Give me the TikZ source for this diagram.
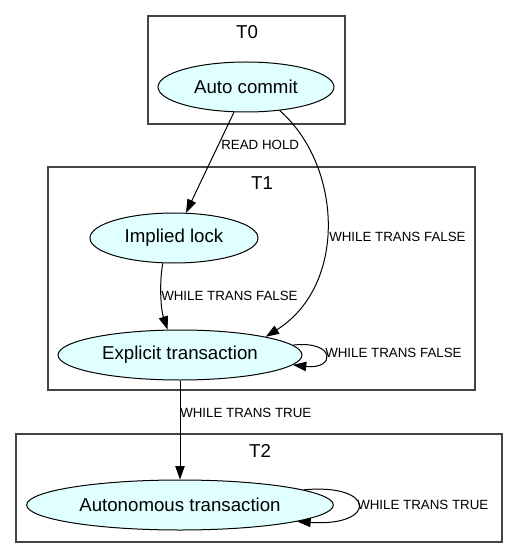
\documentclass[tikz,border=0pt]{standalone}
\usepackage{fontspec}
\setmainfont{Liberation Sans}
\usetikzlibrary{shapes.geometric,arrows.meta}
\definecolor{nodefill}{HTML}{E0FFFF}
\definecolor{clustercol}{HTML}{444444}
\tikzset{
  state/.style={ellipse, draw=black, fill=nodefill, line width=0.75pt, inner sep=0pt,
    minimum height=37.5pt, font=\fontsize{14}{16}\selectfont},
  cluster/.style={draw=clustercol, line width=0.9pt},
  clabel/.style={font=\fontsize{14}{16}\selectfont, inner sep=0pt},
  elabel/.style={font=\fontsize{10}{12}\selectfont, inner sep=0pt, anchor=west},
  edge/.style={draw=black, line width=0.75pt, -{Triangle[length=10pt,width=7pt]}}
}
\begin{document}
\begin{tikzpicture}[x=0.75pt,y=-0.75pt]
\useasboundingbox (0,0) rectangle (519,559);
% clusters
\draw[cluster] (148,16) rectangle (345,124);
\node[clabel] (t0) at (247,32) {T0};
\draw[cluster] (48,167) rectangle (475,390);
\node[clabel] (t1) at (262,183) {T1};
\draw[cluster] (16,434) rectangle (502,542);
\node[clabel] (t2) at (260,451) {T2};
% nodes
\node[state, minimum width=132pt] (ac) at (246,87) {Auto commit};
\node[state, minimum width=126pt] (il) at (174,238) {Implied lock};
\node[state, minimum width=183pt] (ex) at (180,355) {Explicit transaction};
\node[state, minimum width=230pt] (au) at (180,505) {Autonomous transaction};
% edges
\draw[edge] (ac) -- (il);
\node[elabel] (l1) at (221,145) {READ HOLD};
\draw[edge] (ac.-35) .. controls (342,165) and (348,285) .. (ex.12);
\node[elabel] (l2) at (329,237) {WHILE TRANS FALSE};
\draw[edge] (il.-114) .. controls (159,285) and (161,310) .. (ex.116);
\node[elabel] (l3) at (161,296) {WHILE TRANS FALSE};
\draw[edge] (ex.5) .. controls (336,340) and (336,370) .. (ex.-5);
\node[elabel] (l4) at (325,353) {WHILE TRANS FALSE};
\draw[edge] (ex) -- (au);
\node[elabel] (l5) at (180,413) {WHILE TRANS TRUE};
\draw[edge] (au.7) .. controls (377,483) and (377,527) .. (au.-8);
\node[elabel] (l6) at (357,505) {WHILE TRANS TRUE};
\end{tikzpicture}
\end{document}
